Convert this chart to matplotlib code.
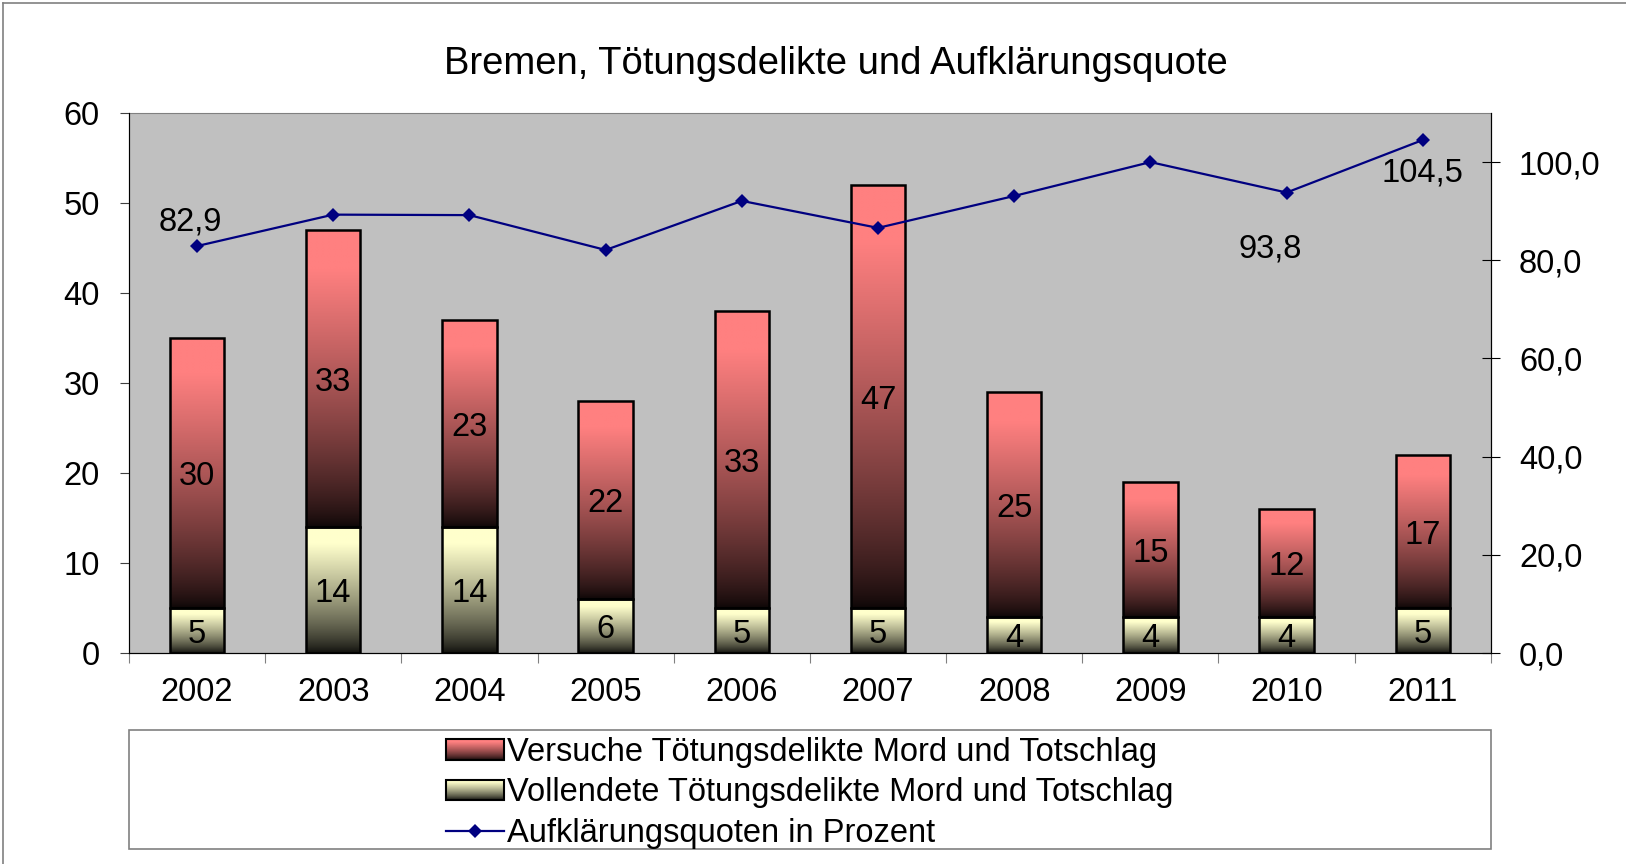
import numpy as np
import matplotlib
matplotlib.use('Agg')
import matplotlib.pyplot as plt
from matplotlib.colors import to_rgb
from matplotlib.patches import Rectangle, Patch
from matplotlib.lines import Line2D
from matplotlib.legend_handler import HandlerBase
from matplotlib.image import BboxImage
from matplotlib.transforms import Bbox, TransformedBbox

years = ['2002', '2003', '2004', '2005', '2006', '2007', '2008', '2009', '2010', '2011']
vollendete = [5, 14, 14, 6, 5, 5, 4, 4, 4, 5]
versuche = [30, 33, 23, 22, 33, 47, 25, 15, 12, 17]
quote = [82.9, 89.3, 89.2, 82.1, 92.1, 86.6, 93.1, 100.0, 93.8, 104.5]
quote_labelled = ['2002', '2010', '2011']

title = 'Bremen, Tötungsdelikte und Aufklärungsquote'
label_vers = 'Versuche Tötungsdelikte Mord und Totschlag'
label_voll = 'Vollendete Tötungsdelikte Mord und Totschlag'
label_quote = 'Aufklärungsquoten in Prozent'

plt.rcParams['font.family'] = ['Liberation Sans', 'DejaVu Sans']
FS = 23.5
PINK = '#FF8080'
CREAM = '#FFFFCC'
NAVY = '#000080'


def gradient(top):
    # dark at the bottom, full colour at the top
    f = np.linspace(0, 1, 256)
    b = 0.05 + 0.95 * np.clip(f * 1.15, 0, 1) ** 0.75
    return b[:, None, None] * np.array(to_rgb(top))[None, None, :]


class GradientHandler(HandlerBase):
    def __init__(self, top):
        super().__init__()
        self.top = top

    def create_artists(self, legend, orig_handle, xdescent, ydescent,
                       width, height, fontsize, trans):
        box = TransformedBbox(Bbox.from_bounds(-xdescent, -ydescent, width, height), trans)
        im = BboxImage(box, interpolation='bilinear', origin='lower')
        im.set_data(gradient(self.top))
        frame = Rectangle((-xdescent, -ydescent), width, height, fill=False,
                          ec='black', lw=1.5, transform=trans)
        return [im, frame]


fig = plt.figure(figsize=(16.26, 8.64), dpi=100)
ax = fig.add_axes([0.0793, 0.2442, 0.8376, 0.625])
ax.set_facecolor('#C0C0C0')

x = np.arange(len(years))
b_voll = ax.bar(x, vollendete, 0.4, fc='none', ec='black', lw=1.8, zorder=3)
b_vers = ax.bar(x, versuche, 0.4, bottom=vollendete, fc='none', ec='black', lw=1.8, zorder=3)


def paint(bars, top, values):
    img = gradient(top)
    for p, v in zip(bars, values):
        x0, y0, w, h = p.get_x(), p.get_y(), p.get_width(), p.get_height()
        ax.imshow(img, extent=[x0, x0 + w, y0, y0 + h], origin='lower',
                  aspect='auto', interpolation='bilinear', zorder=2)
        ax.text(x0 + w / 2, y0 + h / 2, str(v), ha='center', va='center_baseline',
                fontsize=FS, zorder=4)


paint(b_voll, CREAM, vollendete)
paint(b_vers, PINK, versuche)

ax.set_xlim(-0.5, len(years) - 0.5)
ax.set_ylim(0, 60)
ax.set_yticks(np.arange(0, 61, 10))
ax.set_xticks(np.arange(-0.5, len(years), 1))
ax.set_xticklabels([])
ax.set_xticks(x, minor=True)
ax.set_xticklabels(years, minor=True)
ax.tick_params(axis='x', which='major', length=7, color='#808080')
ax.tick_params(axis='x', which='minor', length=0, pad=17, labelsize=FS)
ax.tick_params(axis='y', direction='out', length=6.5, pad=14.4, labelsize=FS, color='#404040')
ax.spines['top'].set_color('#808080')
ax.spines['left'].set_color('#404040')

ax2 = ax.twinx()
line, = ax2.plot(x, quote, color=NAVY, lw=1.6, marker='D', ms=7.5, mew=0)
ax2.set_ylim(0, 110)
ax2.set_yticks(np.arange(0, 101, 20))
ax2.set_yticklabels([f'{v:.1f}'.replace('.', ',') for v in np.arange(0, 101, 20)])
ax2.tick_params(axis='y', direction='inout', length=13, pad=13.7, labelsize=FS)
ax2.spines['top'].set_visible(False)

offsets = {'2002': (-5, 17), '2010': (-12, -41), '2011': (0, -24)}
for yr in quote_labelled:
    i = years.index(yr)
    ax2.annotate(f'{quote[i]:.1f}'.replace('.', ','), (x[i], quote[i]),
                 xytext=offsets[yr], textcoords='offset points',
                 ha='center', va='center', fontsize=FS)

fig.suptitle(title, fontsize=27.5, x=0.514, y=0.926, va='center')

# legend box
lx, ly, lw_, lh = 0.0793, 0.0174, 0.8376, 0.1377
fig.patches.append(Rectangle((lx, ly), lw_, lh, transform=fig.transFigure,
                             fc='white', ec='#808080', lw=1.2, zorder=0))
p_vers = Patch(fc=PINK)
p_voll = Patch(fc=CREAM)
fig.legend([p_vers, p_voll, line], [label_vers, label_voll, label_quote],
           loc='center', bbox_to_anchor=(lx, ly - 0.004, lw_, lh), bbox_transform=fig.transFigure,
           frameon=False, fontsize=FS, handlelength=1.75, handleheight=0.6,
           handletextpad=0.1, labelspacing=0.3, borderpad=0,
           handler_map={p_vers: GradientHandler(PINK), p_voll: GradientHandler(CREAM)})

# outer chart border
fig.add_artist(Line2D([0.002, 1], [0.997, 0.997], color='#808080', lw=1.2))
fig.add_artist(Line2D([0.002, 0.002], [0, 0.997], color='#808080', lw=1.2))

fig.savefig('out.png', dpi=100)
